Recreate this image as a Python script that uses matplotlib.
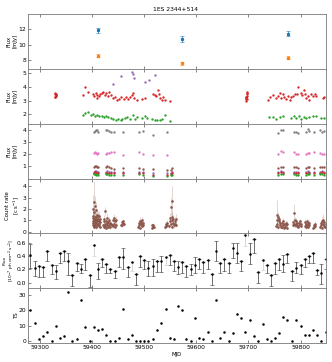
import numpy as np
import matplotlib
matplotlib.use("Agg")
import matplotlib.pyplot as plt

# ---------------- data ----------------
title = "1ES 2344+514"

# panel 1 (two bands, mJy)
p1_mjd = [59411.7, 59572.7, 59776.4]
p1_blue = [11.8, 10.7, 11.4]
p1_blue_err = [0.35, 0.35, 0.35]
p1_orange = [8.6, 7.6, 8.3]
p1_orange_err = [0.2, 0.2, 0.2]

# panel 2 (optical, mJy)
red_mjd = [59328, 59328.5, 59329, 59329, 59329.5, 59329.5, 59330, 59330,
           59382, 59386, 59392, 59402, 59404, 59407, 59409, 59410, 59413, 59415,
           59418, 59421, 59424, 59426, 59430, 59433, 59436, 59440, 59444, 59448,
           59452, 59456, 59461, 59465, 59469, 59472, 59476, 59479, 59481, 59485,
           59495, 59501, 59516, 59521, 59523, 59527, 59529, 59531, 59533, 59536,
           59539, 59550,
           59695, 59695.5, 59696, 59696, 59696.5, 59696.5, 59697, 59697, 59695, 59697.5,
           59737, 59742, 59747, 59752, 59757, 59760, 59763, 59766, 59769, 59773,
           59776, 59779, 59782, 59785, 59789, 59794, 59796, 59800, 59803, 59806,
           59809, 59811, 59814, 59817, 59820, 59824, 59827, 59830, 59843, 59846]
red_flux = [3.25, 3.45, 3.3, 3.55, 3.38, 3.5, 3.32, 3.42,
            3.38, 3.96, 3.62, 3.48, 3.31, 3.55, 3.19, 3.43, 3.31, 3.48,
            3.55, 3.65, 3.38, 3.55, 3.36, 3.65, 3.38, 3.19, 3.26, 3.02,
            3.12, 3.24, 3.12, 3.26, 3.12, 3.24, 3.43, 3.55, 3.19, 3.07,
            3.14, 3.19, 3.48, 3.43, 3.31, 3.74, 3.48, 3.19, 3.07, 3.24,
            3.02, 3.0,
            3.0, 3.1, 3.2, 3.3, 3.35, 3.45, 3.55, 3.65, 3.25, 3.15,
            3.07, 3.26, 3.43, 3.19, 3.36, 3.55, 3.19, 3.46, 3.26, 3.12,
            3.31, 3.07, 3.24, 3.36, 3.46, 3.48, 3.98, 3.55, 3.41, 3.79,
            3.48, 3.19, 3.31, 3.07, 3.48, 3.36, 3.46, 3.36, 3.19, 3.26]
green_mjd = [59382, 59386, 59392, 59397, 59402, 59405, 59409, 59413, 59418, 59423,
             59426, 59431, 59436, 59440, 59445, 59450, 59455, 59458, 59463, 59467,
             59472, 59478, 59482, 59486, 59495, 59501, 59506, 59514, 59520, 59525,
             59530, 59534, 59539, 59550,
             59739, 59747, 59753, 59760, 59766, 59782, 59787, 59792, 59797, 59801,
             59806, 59811, 59817, 59824, 59829, 59840, 59846]
green_flux = [1.98, 2.1, 2.15, 1.98, 2.03, 1.91, 1.98, 1.86, 1.91, 1.81,
              1.91, 1.79, 1.74, 1.67, 1.62, 1.67, 1.57, 1.67, 1.74, 1.81,
              1.67, 1.98, 1.67, 1.81, 1.74, 1.86, 1.74, 1.67, 1.62, 1.57,
              1.62, 1.67, 1.98, 1.5,
              1.81, 1.79, 1.67, 1.79, 1.86, 1.74, 1.86, 1.74, 1.86, 1.67,
              1.81, 1.74, 1.81, 1.91, 1.86, 1.74, 1.74]
purple_mjd = [59440, 59455, 59477, 59479, 59481, 59502, 59509, 59520]
purple_flux = [4.2, 4.76, 5.1, 4.95, 4.64, 4.32, 4.52, 4.83]

# panel 3 (UV/optical, mJy) -- NaN = no measurement
uv_mjd = [59403, 59405, 59407, 59409, 59411, 59426, 59429, 59432, 59436, 59442,
          59459, 59490, 59497, 59516, 59543, 59551, 59554,
          59756, 59762, 59767, 59788, 59792, 59796, 59810, 59814, 59817, 59825,
          59838, 59842, 59846]
uv_gray = [3.9, 3.95, 4.0, 4.05, 3.9, 4.05, 4.0, 3.95, 3.9, 3.85,
           3.85, 3.85, 3.95, 3.6, 3.9, np.nan, np.nan,
           3.8, 4.0, 4.0, 3.9, 3.85, 3.8, 3.85, 4.15, 3.95, 3.9,
           4.05, 3.9, 3.95]
uv_pink = [2.1, 2.15, 2.1, 2.05, 2.1, 2.05, 2.1, 2.1, 2.2, 2.2,
           1.9, 2.15, 2.0, 1.9, 1.9, np.nan, np.nan,
           2.0, 2.25, 2.15, 2.15, 2.05, 2.0, 2.0, 2.1, 2.1, 2.15,
           2.1, 2.05, 2.0]
uv_brown = [0.95, 1.0, 1.0, 0.9, 0.95, 0.95, 1.0, 0.9, 0.85, 0.8,
            0.85, 0.85, 0.8, 0.75, 0.7, 0.7, 0.85,
            0.85, 0.95, 0.9, 0.95, 0.9, 0.85, 0.85, 0.95, 0.9, 0.85,
            0.9, 0.95, 0.9]
uv_purple = [0.55, 0.6, 0.6, 0.55, 0.55, 0.55, 0.6, 0.55, 0.5, 0.5,
             0.5, 0.55, 0.5, 0.4, 0.4, 0.45, 0.5,
             0.55, 0.6, 0.55, 0.55, 0.55, 0.5, 0.5, 0.6, 0.55, 0.5,
             0.55, 0.6, 0.55]
uv_red = [0.45, 0.5, 0.45, 0.45, 0.4, 0.45, 0.45, 0.4, 0.4, 0.4,
          0.4, 0.45, 0.4, 0.3, 0.3, 0.35, 0.4,
          0.4, 0.5, 0.45, 0.45, 0.4, 0.45, 0.4, 0.45, 0.45, 0.4,
          0.45, 0.5, 0.45]
uv_green = [0.35, 0.35, 0.3, 0.35, 0.3, 0.35, 0.35, 0.3, 0.3, 0.3,
            0.3, 0.35, 0.3, 0.2, 0.2, 0.25, 0.3,
            0.3, 0.35, 0.35, 0.35, 0.3, 0.3, 0.3, 0.35, 0.35, 0.3,
            0.35, 0.35, 0.3]

# panel 4 (X-ray count rate)
cr_mjd = [59400.5, 59401, 59401, 59401.5, 59402, 59402, 59402.5, 59403, 59403, 59403.5,
          59404, 59404, 59404.5, 59405, 59405, 59405.5, 59406, 59406.5, 59407, 59407,
          59407.5, 59408, 59408.5, 59409, 59409.5, 59410, 59410.5, 59411, 59411.5, 59412,
          59412.5, 59413, 59413.5, 59414, 59414.5, 59415,
          59421, 59422, 59422.5, 59423, 59424, 59424.5, 59425, 59426, 59427, 59427.5,
          59428, 59429, 59430, 59431, 59432, 59433, 59434, 59435, 59436, 59437,
          59439, 59440, 59441, 59442, 59443, 59444, 59445, 59446,
          59456, 59457, 59458, 59459, 59460, 59461,
          59488, 59489, 59490, 59491, 59492, 59493, 59494, 59495, 59496, 59497, 59498,
          59514, 59515, 59516, 59517, 59518,
          59540, 59541, 59542, 59543, 59544,
          59548, 59549, 59550, 59551, 59552, 59552.5, 59553, 59553.5, 59554, 59555,
          59556, 59557, 59558, 59559, 59560, 59561,
          59753, 59754, 59755, 59755.5, 59756, 59757, 59758, 59759, 59760, 59761, 59762,
          59764, 59765, 59766, 59767, 59768, 59769,
          59771, 59772, 59773, 59774, 59775,
          59785, 59786, 59787, 59788, 59789, 59790, 59791, 59792, 59793, 59794,
          59796, 59797, 59798, 59799, 59800, 59801,
          59808, 59809, 59810, 59811, 59812, 59813, 59814, 59815, 59816, 59817,
          59824, 59825, 59826, 59827, 59828,
          59838, 59839, 59840, 59841, 59842, 59843, 59844, 59845, 59846, 59847, 59848]
cr_rate = [0.9, 1.2, 0.6, 2.0, 0.8, 1.4, 0.45, 2.6, 1.0, 0.7,
           1.7, 0.5, 1.1, 2.3, 0.85, 1.3, 0.6, 1.9, 1.0, 0.4,
           1.25, 0.75, 1.5, 0.55, 1.05, 0.9, 1.35, 0.65, 1.15, 0.5,
           0.95, 1.4, 0.7, 1.1, 0.45, 0.85,
           0.6, 0.9, 0.4, 1.1, 0.7, 1.8, 0.5, 0.95, 0.35, 0.75,
           1.2, 0.55, 0.85, 0.45, 1.0, 0.6, 0.8, 0.4, 0.7, 0.55,
           0.5, 1.0, 0.7, 1.2, 0.45, 0.9, 0.6, 1.05,
           0.6, 0.85, 0.55, 0.75, 0.9, 0.65,
           0.4, 0.75, 0.55, 0.95, 0.35, 0.65, 0.85, 0.5, 1.0, 0.6, 0.8,
           0.35, 0.55, 0.45, 0.6, 0.4,
           0.4, 0.7, 0.5, 0.8, 0.6,
           0.5, 0.9, 1.2, 0.65, 2.2, 1.0, 2.7, 0.45, 1.3, 0.8,
           1.1, 0.55, 0.95, 0.7, 1.15, 0.6,
           0.5, 1.0, 1.5, 0.7, 1.3, 0.4, 0.9, 1.1, 0.6, 0.8, 0.45,
           0.4, 0.75, 0.55, 0.9, 0.35, 0.65,
           0.45, 0.8, 0.6, 0.35, 0.7,
           0.6, 0.85, 1.6, 0.7, 1.0, 0.55, 0.9, 0.65, 0.8, 0.5,
           0.45, 0.8, 0.6, 0.9, 0.5, 0.7,
           0.5, 0.85, 0.65, 0.4, 0.9, 0.55, 0.75, 0.45, 0.8, 0.6,
           0.35, 0.6, 0.45, 0.7, 0.5,
           0.4, 0.8, 0.55, 0.95, 0.35, 0.7, 1.0, 0.5, 0.85, 0.45, 0.65]
cr_err = [0.3, 0.4, 0.2, 1.2, 0.3, 0.5, 0.15, 1.9, 0.3, 0.25,
          0.6, 0.2, 0.4, 0.8, 0.3, 0.45, 0.2, 0.7, 0.35, 0.15,
          0.4, 0.25, 0.5, 0.2, 0.35, 0.3, 0.45, 0.25, 0.4, 0.2,
          0.3, 0.45, 0.25, 0.35, 0.15, 0.3,
          0.2, 0.3, 0.15, 0.35, 0.25, 0.35, 0.2, 0.3, 0.12, 0.25,
          0.4, 0.2, 0.3, 0.15, 0.3, 0.2, 0.25, 0.15, 0.25, 0.2,
          0.2, 0.3, 0.25, 0.35, 0.15, 0.3, 0.2, 0.35,
          0.15, 0.2, 0.15, 0.2, 0.2, 0.15,
          0.15, 0.25, 0.2, 0.3, 0.12, 0.2, 0.25, 0.2, 0.3, 0.2, 0.25,
          0.12, 0.15, 0.15, 0.2, 0.12,
          0.15, 0.2, 0.15, 0.2, 0.2,
          0.2, 0.3, 0.4, 0.25, 0.8, 0.35, 1.3, 0.15, 0.45, 0.3,
          0.35, 0.2, 0.3, 0.25, 0.4, 0.2,
          0.2, 0.35, 1.25, 0.25, 0.4, 0.15, 0.3, 0.35, 0.2, 0.25, 0.15,
          0.15, 0.25, 0.2, 0.3, 0.12, 0.2,
          0.15, 0.25, 0.2, 0.12, 0.2,
          0.2, 0.25, 0.85, 0.25, 0.3, 0.2, 0.3, 0.2, 0.25, 0.15,
          0.15, 0.25, 0.2, 0.25, 0.15, 0.2,
          0.15, 0.25, 0.2, 0.15, 0.25, 0.2, 0.2, 0.15, 0.25, 0.2,
          0.12, 0.15, 0.15, 0.2, 0.15,
          0.15, 0.25, 0.2, 0.3, 0.12, 0.2, 0.55, 0.15, 0.25, 0.15, 0.2]

# panels 5 & 6 (gamma-ray bins)
lat_mjd = [59281, 59290, 59298, 59306, 59314, 59322, 59330, 59338, 59346, 59354,
           59362, 59370, 59379, 59387, 59395, 59403, 59411, 59419, 59427, 59435,
           59443, 59451, 59460, 59468, 59476, 59484, 59492, 59500, 59508, 59516,
           59524, 59532, 59541, 59549, 59557, 59565, 59573, 59581, 59589, 59597,
           59605, 59613, 59622, 59630, 59638, 59646, 59654, 59662, 59670, 59678,
           59686, 59694, 59703, 59711, 59719, 59727, 59735, 59743, 59751, 59759,
           59767, 59775, 59784, 59792, 59800, 59808, 59816, 59824, 59832, 59840,
           59848]
lat_flux = [0.41, 0.22, 0.25, 0.24, 0.48, 0.26, 0.17, 0.45, 0.48, 0.32,
            0.12, 0.30, 0.21, 0.36, 0.11, 0.57, 0.20, 0.36, 0.28, 0.20,
            0.17, 0.38, 0.38, 0.24, 0.31, 0.13, 0.40, 0.34, 0.22, 0.25,
            0.32, 0.33, 0.39, 0.42, 0.33, 0.23, 0.31, 0.25, 0.20, 0.27,
            0.36, 0.31, 0.34, 0.13, 0.48, 0.30, 0.35, 0.30, 0.52, 0.44,
            0.32, 0.71, 0.43, 0.66, 0.16, 0.34, 0.27, 0.12, 0.29, 0.35,
            0.28, 0.43, 0.17, 0.22, 0.26, 0.35, 0.40, 0.45, 0.19, 0.14,
            0.36]
lat_low = [0.22, 0.10, 0.09, 0.08, 0.33, 0.13, 0.06, 0.29, 0.33, 0.12,
           -0.05, 0.18, 0.14, 0.19, -0.06, 0.40, 0.05, 0.24, 0.14, 0.14,
           0.07, 0.24, 0.21, 0.09, 0.17, -0.04, 0.24, 0.20, 0.10, 0.10,
           0.16, 0.16, 0.26, 0.27, 0.18, 0.13, 0.14, 0.08, 0.12, 0.15,
           0.20, 0.15, 0.20, -0.03, 0.33, 0.14, 0.17, 0.14, 0.37, 0.29,
           0.17, 0.55, 0.28, 0.44, 0.00, 0.19, 0.14, -0.05, 0.13, 0.19,
           0.16, 0.29, 0.02, 0.14, 0.13, 0.23, 0.29, 0.29, 0.12, -0.02,
           0.20]
lat_high = [0.58, 0.33, np.nan, np.nan, np.nan, np.nan, 0.27, np.nan, np.nan, 0.44,
            np.nan, np.nan, 0.28, np.nan, np.nan, np.nan, 0.29, np.nan, np.nan, np.nan,
            np.nan, np.nan, 0.52, np.nan, np.nan, np.nan, np.nan, np.nan, 0.33, 0.36,
            np.nan, 0.40, np.nan, np.nan, np.nan, 0.32, np.nan, np.nan, 0.28, 0.38,
            np.nan, np.nan, np.nan, np.nan, 0.62, np.nan, np.nan, np.nan, 0.60, 0.60,
            np.nan, np.nan, 0.59, np.nan, np.nan, np.nan, np.nan, np.nan, np.nan, np.nan,
            0.42, np.nan, np.nan, 0.31, np.nan, np.nan, np.nan, np.nan, np.nan, 0.28,
            np.nan]
lat_gray_bins = [15, 24, 32, 51, 55]
lat_ts = [20, 12, 1, 3, 6, 0, 10, 2, 3, 32,
          0, 1, 27, 9, 0, 9, 7, 8, 4, 0,
          0, 2, 21, 1, 4, 0, 0, 0, 0, 1,
          7, 12, 21, 2, 1, 23, 20, 1, 0, 15,
          2, 1, 6, 0, 27, 2, 6, 0, 5, 18,
          15, 6, 14, 3, 0, 11, 1, 0, 2, 5,
          16, 14, 0, 14, 10, 4, 4, 7, 4, 0,
          6]

xticks = [59300, 59400, 59500, 59600, 59700, 59800]

# ---------------- plot ----------------
C = plt.rcParams['axes.prop_cycle'].by_key()['color']
blue, orange, green, red, purple, brown, pink, gray = C[:8]

fs = 4.3
lfs = 3.9
plt.rcParams.update({'font.size': fs, 'axes.linewidth': 0.6,
                     'axes.edgecolor': '#777777'})
fig, axes = plt.subplots(6, 1, figsize=(3.32, 3.62), dpi=100, sharex=True)
fig.subplots_adjust(left=0.085, right=0.982, top=0.9613, bottom=0.0525, hspace=0)
ax1, ax2, ax3, ax4, ax5, ax6 = axes

ms = 1.7
ax1.errorbar(p1_mjd, p1_blue, yerr=p1_blue_err, fmt='s', ms=1.3, color=blue,
             ecolor=blue, elinewidth=0.5, capsize=1.2, capthick=0.4)
ax1.errorbar(p1_mjd, p1_orange, yerr=p1_orange_err, fmt='s', ms=1.3, color=orange,
             ecolor=orange, elinewidth=0.5, capsize=1.2, capthick=0.4)
ax1.set_ylim(6.9, 13.9)
ax1.set_yticks([8, 10, 12])
ax1.set_ylabel("Flux\n[mJy]", fontsize=lfs)

ax2.plot(red_mjd, red_flux, 'o', ms=ms, color=red, mew=0)
ax2.plot(green_mjd, green_flux, 'o', ms=ms, color=green, mew=0)
ax2.plot(purple_mjd, purple_flux, 'o', ms=ms, color=purple, mew=0)
ax2.set_ylim(1.33, 5.31)
ax2.set_yticks([2, 3, 4, 5])
ax2.set_ylabel("Flux\n[mJy]", fontsize=lfs)

for vals, col in [(uv_gray, gray), (uv_pink, pink), (uv_brown, brown),
                  (uv_purple, purple), (uv_red, red), (uv_green, green)]:
    ax3.plot(uv_mjd, vals, 'o', ms=ms, color=col, mew=0)
ax3.set_ylim(-0.03, 4.56)
ax3.set_yticks([1, 2, 3, 4])
ax3.set_ylabel("Flux\n[mJy]", fontsize=lfs)

ax4.errorbar(cr_mjd, cr_rate, yerr=cr_err, fmt='o', ms=1.9, mew=0, color=brown,
             ecolor=(0.55, 0.34, 0.29, 0.35), elinewidth=0.5, capsize=1.0, capthick=0.4)
ax4.set_ylim(-0.15, 4.68)
ax4.set_yticks([0, 1, 2, 3, 4])
ax4.set_ylabel("Count rate\n[c s$^{-1}$]", fontsize=lfs)

lm = np.array(lat_mjd, dtype=float)
lf = np.array(lat_flux)
lo_err = lf - np.array(lat_low)
hi = np.array(lat_high)
hi_err = np.where(np.isnan(hi), 0.0, hi - lf)
is_gray = np.isin(np.arange(len(lf)), lat_gray_bins)
for mask, ec in [(~is_gray, '#333333'), (is_gray, '#c8c8c8')]:
    ax5.errorbar(lm[mask], lf[mask], yerr=[lo_err[mask], hi_err[mask]], fmt='none',
                 ecolor=ec, elinewidth=0.5, capsize=1.2, capthick=0.4)
ax5.plot(lm, lf, 'o', ms=1.8, color='black', mew=0)
ax5.set_ylim(-0.08, 0.74)
ax5.set_yticks([0.0, 0.2, 0.4, 0.6])
ax5.set_ylabel("Flux\n[10$^{-7}$ ph cm$^{-2}$ s$^{-1}$]", fontsize=3.2, linespacing=1.0)

ax6.plot(lat_mjd, lat_ts, 'o', ms=1.8, color='black', mew=0)
ax6.set_ylim(-1.3, 34.6)
ax6.set_yticks([0, 10, 20, 30])
ax6.set_ylabel("TS", fontsize=lfs)
ax6.set_xlabel("MJD", fontsize=lfs, labelpad=1.5)

for ax in axes:
    ax.set_xlim(59277, 59849)
    ax.set_xticks(xticks)
    ax.tick_params(direction='in', top=True, length=2, width=0.5,
                   labelsize=fs, pad=1.5, color='#555555')

label_x = [-0.037, -0.037, -0.037, -0.023, -0.038, -0.030]
for ax, lx in zip(axes, label_x):
    ax.yaxis.set_label_coords(lx, 0.5)

fig.text(0.53, 0.975, title, ha='center', va='center', fontsize=fs)

fig.savefig("out.png", dpi=100)
